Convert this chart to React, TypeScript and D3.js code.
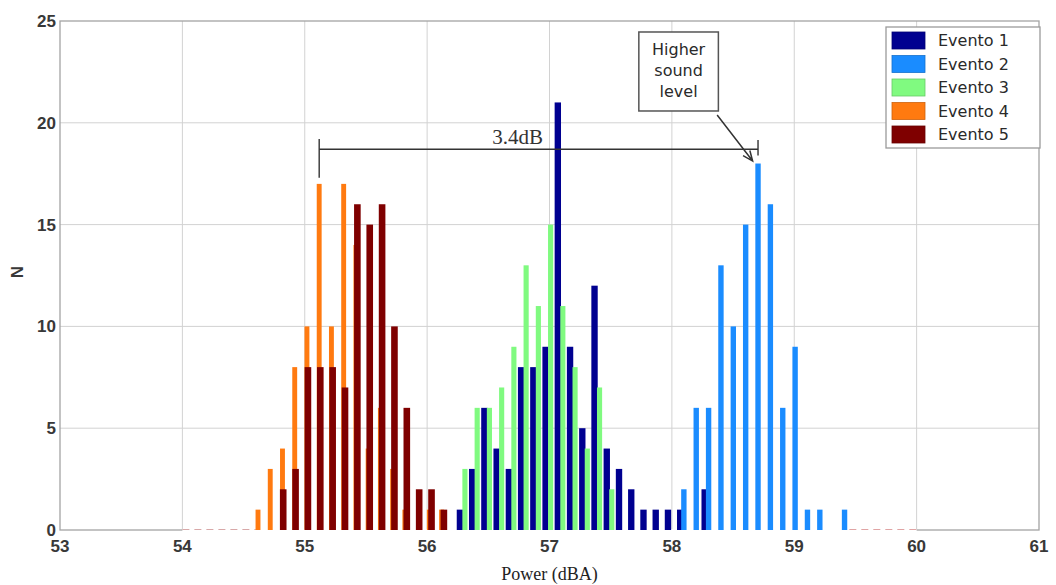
import React from 'react'
import * as d3 from 'd3'

const eventNames = ['Evento 1', 'Evento 2', 'Evento 3', 'Evento 4', 'Evento 5']
const eventColors = ['#000090', '#1a8cff', '#80fa80', '#ff7a10', '#7f0000']

// counts per bin (N)
const evento1 = [1, 3, 6, 4, 3, 8, 8, 9, 21, 9, 5, 12, 4, 3, 2, 1, 1, 1, 1, 0, 2]
const evento2 = [2, 6, 6, 13, 10, 15, 18, 16, 6, 9, 1, 1, 0, 1]
const evento3 = [3, 6, 6, 7, 9, 13, 11, 15, 11, 8, 4, 7, 2]
const evento4 = [1, 3, 4, 8, 10, 17, 10, 17, 14, 4, 6, 3, 1, 0, 1, 1]
const evento5 = [2, 3, 8, 8, 8, 7, 16, 15, 16, 10, 6, 2, 2, 1]

// first bin centre and bin spacing (dBA) of each event
const binStart = [56.268, 58.098, 56.309, 54.618, 54.824]
const binStep = [0.1, 0.101, 0.1, 0.1, 0.101]

const xTicks = [53, 54, 55, 56, 57, 58, 59, 60, 61]
const yTicks = [0, 5, 10, 15, 20, 25]

const series = [evento1, evento2, evento3, evento4, evento5]

const tickFont = { fontFamily: '"Liberation Sans", Arial, sans-serif', fontWeight: 'bold', fontSize: 17, fill: '#383838' }
const boxFont = { fontFamily: '"DejaVu Sans", sans-serif', fontSize: 16, fill: '#2a2a2a' }

export default function App() {
  const width = 1056
  const height = 585
  const x = d3.scaleLinear().domain([53, 61]).range([60, 1039])
  const y = d3.scaleLinear().domain([0, 25]).range([530, 21])
  const barWidth = [0.052, 0.044, 0.042, 0.04, 0.054]

  const bins = series.map((values, s) =>
    values.map((v, i) => ({ x: binStart[s] + i * binStep[s], v })))

  // the 3.4dB span goes from the peak of Evento 4 to the peak of Evento 2
  const leftPeak = bins[3][d3.maxIndex(evento4)].x
  const rightPeak = bins[1][d3.maxIndex(evento2)].x
  const spanY = y(18.7)

  // callout box + arrow, in data units
  const box = { x0: 57.73, x1: 58.38, y0: 24.46, y1: 20.58 }
  const a0 = [x(58.37), y(20.38)]
  const a1 = [x(58.66), y(18.12)]
  const ang = Math.atan2(a1[1] - a0[1], a1[0] - a0[0])
  const head = [ang + Math.PI - 0.4, ang + Math.PI + 0.4].map(t => [a1[0] + 11 * Math.cos(t), a1[1] + 11 * Math.sin(t)])

  const [x0, x1] = x.range()
  const [yb, yt] = y.range()

  return <svg width={width} height={height} style={{ position: 'absolute', left: 0, top: 0, background: '#fff' }}>
    <rect x={0} y={0} width={width} height={height} fill="#fff" />
    {/* grid */}
    {xTicks.slice(1, -1).map(t =>
      <line key={'gx' + t} x1={x(t)} x2={x(t)} y1={yt} y2={yb} stroke="#d2d2d2" />)}
    {yTicks.slice(1, -1).map(t =>
      <line key={'gy' + t} x1={x0} x2={x1} y1={y(t)} y2={y(t)} stroke="#d2d2d2" />)}
    <rect x={x0} y={yt} width={x1 - x0} height={yb - yt} fill="none" stroke="#a4a4a4" strokeWidth={1.3} />
    {/* zero-height bins along the base */}
    <line x1={x(54)} x2={x(60)} y1={yb} y2={yb} stroke="#fff" strokeWidth={2} />
    <line x1={x(54)} x2={x(54.6)} y1={yb - 0.5} y2={yb - 0.5} stroke="#d8a8a8" strokeDasharray="7 5" strokeWidth={1.2} />
    <line x1={x(59.45)} x2={x(60)} y1={yb - 0.5} y2={yb - 0.5} stroke="#e0a4a4" strokeDasharray="7 5" strokeWidth={1.2} />

    {bins.map((data, s) => <g key={s} fill={eventColors[s]}>
      {data.filter(d => d.v > 0).map((d, i) =>
        <rect key={i} x={x(d.x - barWidth[s] / 2)} y={y(d.v)}
              width={x(d.x + barWidth[s] / 2) - x(d.x - barWidth[s] / 2)} height={yb - y(d.v)} />)}
    </g>)}

    {/* 3.4dB span */}
    <g stroke="#333" strokeWidth={1.4}>
      <line x1={x(leftPeak)} x2={x(rightPeak)} y1={spanY} y2={spanY} />
      <line x1={x(leftPeak)} x2={x(leftPeak)} y1={y(19.2)} y2={y(17.3)} />
      <line x1={x(rightPeak)} x2={x(rightPeak)} y1={y(19.15)} y2={y(18.4)} />
    </g>
    <text x={x(56.74)} y={spanY - 5} textAnchor="middle" fontFamily='"Liberation Serif", "Times New Roman", serif'
          fontSize={21} fill="#333">3.4dB</text>

    {/* callout */}
    <rect x={x(box.x0)} y={y(box.y0)} width={x(box.x1) - x(box.x0)} height={y(box.y1) - y(box.y0)}
          fill="#fff" stroke="#555" strokeWidth={1.5} />
    {['Higher', 'sound', 'level'].map((t, i) =>
      <text key={t} x={(x(box.x0) + x(box.x1)) / 2} y={y(box.y0) + 23 + i * 21} textAnchor="middle" {...boxFont}>{t}</text>)}
    <path d={`M${a0[0]},${a0[1]}L${a1[0]},${a1[1]}M${head[0][0]},${head[0][1]}L${a1[0]},${a1[1]}L${head[1][0]},${head[1][1]}`}
          fill="none" stroke="#333" strokeWidth={1.5} />

    {/* axes labels */}
    {xTicks.map(t => <text key={'tx' + t} x={x(t)} y={552} textAnchor="middle" {...tickFont}>{t}</text>)}
    {yTicks.map(t => <text key={'ty' + t} x={56} y={y(t) + 6} textAnchor="end" {...tickFont}>{t}</text>)}
    <text transform="translate(23,272) rotate(-90)" textAnchor="middle" {...tickFont}>N</text>
    <text x={(x0 + x1) / 2} y={580} textAnchor="middle" fontFamily='"Liberation Serif", "Times New Roman", serif'
          fontSize={18} fill="#222">Power (dBA)</text>

    {/* legend */}
    <rect x={886} y={27} width={154} height={121} fill="#fff" stroke="#9a9a9a" strokeWidth={1.3} />
    {eventNames.map((name, i) => <g key={name} transform={`translate(892,${32 + i * 23.5})`}>
      <rect width={33} height={17} fill={eventColors[i]} stroke={d3.color(eventColors[i]).darker(0.6).toString()} strokeWidth={0.8} />
      <text x={46} y={14} {...boxFont}>{name}</text>
    </g>)}
  </svg>
}
